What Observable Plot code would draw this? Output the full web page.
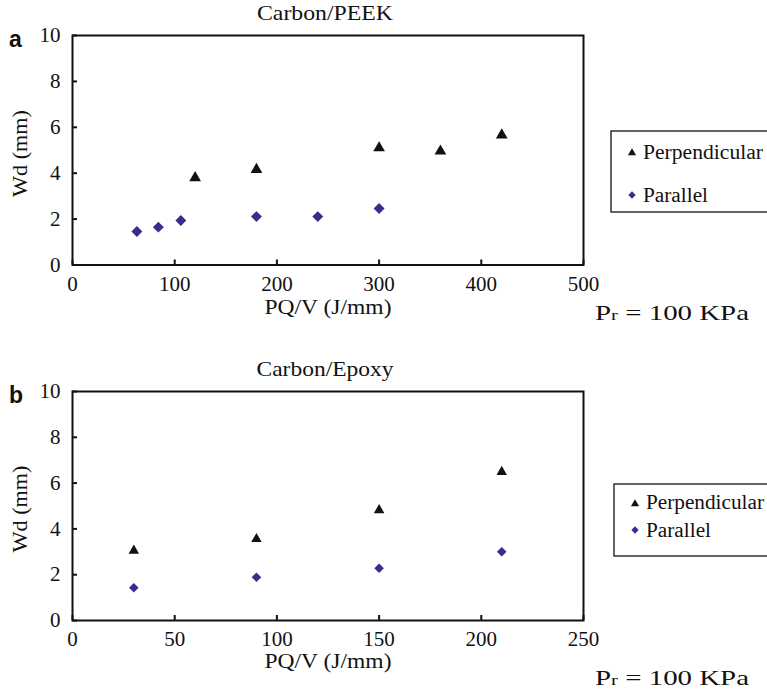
<!DOCTYPE html>
<html><head><meta charset="utf-8">
<script src="https://cdn.jsdelivr.net/npm/d3@7"></script>
<script src="https://cdn.jsdelivr.net/npm/@observablehq/plot@0.6"></script>
<style>
html,body{margin:0;padding:0;background:#fff;overflow:hidden}
#wrap{position:relative;width:767px;height:695px;font-family:"Liberation Serif",serif}
#wrap > svg{position:absolute;left:0}
</style></head><body><div id="wrap"></div>
<script>
// ---- data ----
const peekPerpX = [120, 180, 300, 360, 420];
const peekPerpY = [3.80, 4.16, 5.10, 4.96, 5.66];
const peekParX = [63, 84, 106, 180, 240, 300];
const peekParY = [1.46, 1.65, 1.94, 2.11, 2.11, 2.46];
const epoxyPerpX = [30, 90, 150, 210];
const epoxyPerpY = [3.05, 3.56, 4.82, 6.49];
const epoxyParX = [30, 90, 150, 210];
const epoxyParY = [1.43, 1.89, 2.28, 3.00];
const peekXTicks = [0, 100, 200, 300, 400, 500];
const epoxyXTicks = [0, 50, 100, 150, 200, 250];
const yTicks = [0, 2, 4, 6, 8, 10];
const seriesNames = ["Perpendicular", "Parallel"];
const panelTitles = ["Carbon/PEEK", "Carbon/Epoxy"];
const panelLetters = ["a", "b"];
const xLabel = "PQ/V (J/mm)";
const yLabel = "Wd (mm)";
const perpColor = "#111111";
const parColor = "#3b2b8f";
const SERIF = "'Liberation Serif', 'Times New Roman', serif";

const wrap = document.getElementById("wrap");

function panel(px, py, qx, qy, xTicks, top, height, mb, rT, rD) {
  const perp = px.map((x, i) => ({x, y: py[i], s: seriesNames[0]}));
  const par = qx.map((x, i) => ({x, y: qy[i], s: seriesNames[1]}));
  const svg = Plot.plot({
    width: 767, height, marginLeft: 72, marginRight: 184, marginTop: 35, marginBottom: mb,
    style: {fontFamily: SERIF, fontSize: "21px", color: "#111", background: "transparent"},
    x: {domain: [xTicks[0], xTicks[xTicks.length - 1]], label: null},
    y: {domain: [yTicks[0], yTicks[yTicks.length - 1]], label: null},
    marks: [
      Plot.axisX({ticks: xTicks, tickSize: -5, tickPadding: 16, strokeWidth: 2, label: null, tickFormat: d => String(d)}),
      Plot.axisY({ticks: yTicks, tickSize: -5, tickPadding: 17, strokeWidth: 2, label: null, tickFormat: d => String(d)}),
      Plot.frame({stroke: "#111", strokeWidth: 2}),
      Plot.dot(par, {x: "x", y: "y", symbol: "diamond2", r: rD, fill: parColor}),
      Plot.dot(perp, {x: "x", y: "y", symbol: "triangle2", r: rT, fill: perpColor})
    ]
  });
  svg.style.top = top + "px";
  wrap.appendChild(svg);
}

panel(peekPerpX, peekPerpY, peekParX, peekParY, peekXTicks, 0, 345, 80.5, 5.6, 4.9);
panel(epoxyPerpX, epoxyPerpY, epoxyParX, epoxyParY, epoxyXTicks, 356, 340, 76, 5.0, 4.3);

// ---- annotations overlay ----
const ov = d3.select(wrap).append("svg")
  .attr("width", 767).attr("height", 695)
  .style("top", "0px").style("pointer-events", "none").style("fill", "#111");

function txt(s, x, y, size, len, anchor) {
  const t = ov.append("text").attr("x", x).attr("y", y)
    .attr("font-family", SERIF).attr("font-size", size).attr("fill", "#111");
  if (anchor) t.attr("text-anchor", anchor);
  if (len) t.attr("textLength", len).attr("lengthAdjust", "spacingAndGlyphs");
  t.text(s);
  return t;
}

const tri = d3.symbol(d3.symbolTriangle2, 48)();
const dia = d3.symbol(d3.symbolDiamond2, 34)();

[0, 1].forEach(k => {
  const o = k === 0 ? 0 : 355.5;
  ov.append("text").attr("x", 9).attr("y", 47 + o)
    .attr("font-family", "'Liberation Sans', Arial, sans-serif").attr("font-weight", "bold").attr("font-size", 23)
    .attr("fill", "#111").text(panelLetters[k]);
  txt(panelTitles[k], 325, 20 + o, 21, k === 0 ? 136 : 137, "middle");
  txt(yLabel, 0, 0, 21, 87, "middle").attr("transform", `translate(27,${153.5 + o}) rotate(-90)`);
  txt(xLabel, 328, k === 0 ? 314 : 668, 21, 127, "middle");
  const pr = ov.append("text").attr("x", 595).attr("y", k === 0 ? 320 : 685)
    .attr("font-family", SERIF).attr("font-size", 21).attr("fill", "#111")
    .attr("textLength", 154).attr("lengthAdjust", "spacingAndGlyphs");
  pr.append("tspan").text("P");
  pr.append("tspan").attr("font-size", 15).text("r");
  pr.append("tspan").text(" = 100 KPa");
  // legend
  const L = k === 0 ? {x: 611, y: 131, h: 81, t1: 159, t2: 202, m1: 152, m2: 195}
                    : {x: 614, y: 484, h: 72, t1: 509, t2: 537, m1: 503, m2: 530};
  ov.append("rect").attr("x", L.x).attr("y", L.y).attr("width", 200).attr("height", L.h)
    .attr("fill", "none").attr("stroke", "#111").attr("stroke-width", 1.3);
  ov.append("path").attr("d", tri).attr("transform", `translate(${L.x + 21},${L.m1 + 1})`).attr("fill", perpColor);
  ov.append("path").attr("d", dia).attr("transform", `translate(${L.x + 21},${L.m2})`).attr("fill", parColor);
  txt(seriesNames[0], L.x + 32, L.t1, 20, k === 0 ? 120 : 118);
  txt(seriesNames[1], L.x + 32, L.t2, 20, 65);
});
</script></body></html>
